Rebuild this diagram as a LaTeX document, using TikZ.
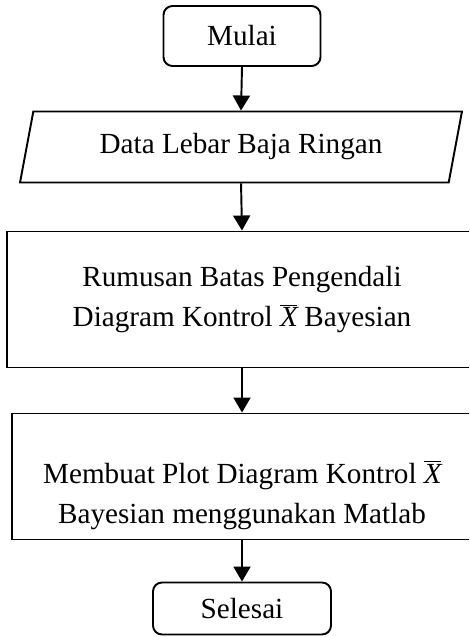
\documentclass[tikz,border=0pt]{standalone}
\usepackage{fontspec}
\setmainfont{Liberation Serif}
\usetikzlibrary{arrows.meta,shapes.geometric}

\newcommand{\xbar}{$\overline{\textit{X}\kern-0.5pt}$}

\begin{document}
\begin{tikzpicture}[
    every node/.style={font=\fontsize{16.6}{22.8}\selectfont, line width=1.1pt},
    terminal/.style={draw, rounded corners=0.18cm, minimum height=1.2cm},
    io/.style={draw, trapezium, trapezium left angle=76.7, trapezium right angle=103.3,
        trapezium stretches=true, minimum width=8.86cm, minimum height=1.42cm, inner xsep=0pt},
    proses/.style={draw, align=center},
    arr/.style={-{Triangle[width=0.34cm,length=0.3cm]}, line width=1.1pt}
]
\clip (0,0) rectangle (9.38,-12.74);
\useasboundingbox (0,0) rectangle (9.38,-12.74);

\node[terminal, minimum width=3.14cm] (mulai) at (4.84,-0.72) {Mulai};
\node[io] (data) at (4.82,-2.94) {Data Lebar Baja Ringan};
\node[proses, minimum width=9.4cm, minimum height=2.72cm] (rumus) at (4.84,-5.99)
    {Rumusan Batas Pengendali\\Diagram Kontrol \xbar{} Bayesian};
\node[proses, minimum width=9.2cm, minimum height=2.52cm] (plot) at (4.84,-9.53)
    {\rule{0pt}{1.2cm}Membuat Plot Diagram Kontrol \xbar\\Bayesian menggunakan Matlab};
\node[terminal, minimum width=3.56cm, minimum height=1.04cm] (selesai) at (4.84,-12.17) {Selesai};

\draw[arr] (mulai.south) -- (data.north);
\draw[arr] (data.south) -- (rumus.north);
\draw[arr] (rumus.south) -- (plot.north);
\draw[arr] (plot.south) -- (selesai.north);
\end{tikzpicture}
\end{document}
